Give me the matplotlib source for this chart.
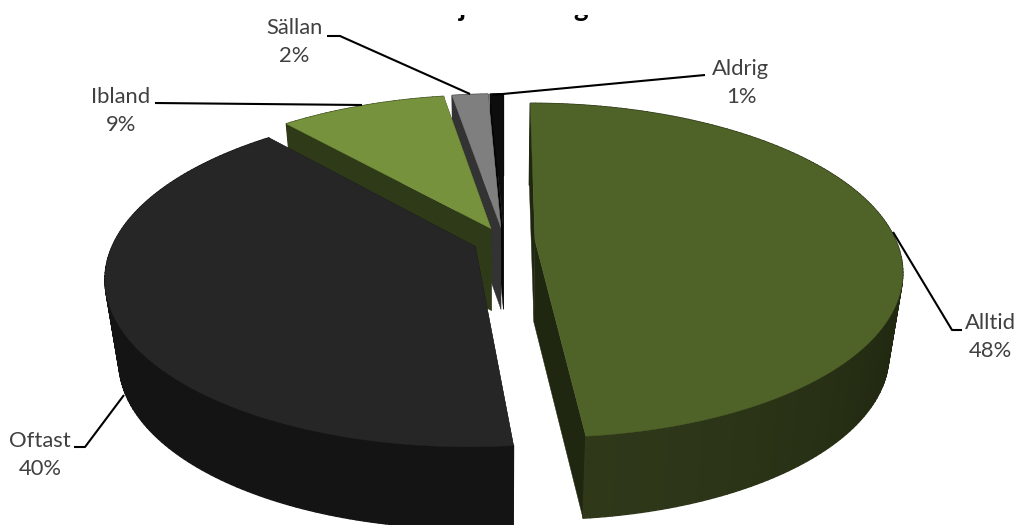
import numpy as np
import matplotlib
matplotlib.use("Agg")
import matplotlib.pyplot as plt
from matplotlib.patches import Rectangle

# ===================================================== Variables ==================================================== #

categories = ['Alltid', 'Oftast', 'Ibland', 'Sällan', 'Aldrig']
percent = [48.4, 40.2, 8.8, 1.9, 0.7]
percent_labels = ['48%', '40%', '9%', '2%', '1%']

top_colors = ['#4F6228', '#262626', '#76923C', '#7F7F7F', '#0D0D0D']
wall_colors = ['#1F2710', '#141414', '#2F3A18', '#333333', '#050505']
side_front = ['#2F3819', '#141414', '#3A4A1C', '#333333', '#050505']

CX, CY = 504, 241      # pie centre, pixels
RADIUS = 361
SQUASH = 0.4485
PERSP = 0.18
EXPLODE = 0.086
DEPTH = 82
BOTTOM_SCALE = 0.965

label_pos = [(990, 323), (40, 441), (121, 97), (294, 28), (741, 69)]
leaders = [
    [(893, 232), (952, 330), (962, 330)],
    [(124, 395), (85, 447), (74, 447)],
    [(155, 103), (362, 105)],
    [(327, 36), (340, 36), (470, 94)],
    [(705, 75), (492, 95)],
]


# ===================================================== Functions ==================================================== #


def project(u, v):
    w = 1 / (1 - PERSP * v)
    return CX + RADIUS * u * w, CY + SQUASH * RADIUS * v * w


def drop(x, y):
    return CX + (x - CX) * BOTTOM_SCALE, y + DEPTH


def mix(c1, c2, t):
    a = np.array(matplotlib.colors.to_rgb(c1))
    b = np.array(matplotlib.colors.to_rgb(c2))
    return tuple(a + (b - a) * t)


def draw_slice(ax, start, stop, i, order):
    mid = np.radians((start + stop) / 2)
    ox, oy = EXPLODE * np.sin(mid), -EXPLODE * np.cos(mid)
    angles = np.radians(np.linspace(start, stop, max(int(stop - start), 4)))
    rim_x, rim_y = project(ox + np.sin(angles), oy - np.cos(angles))
    apex_x, apex_y = project(ox, oy)
    low_x, low_y = drop(rim_x, rim_y)
    apex_lx, apex_ly = drop(apex_x, apex_y)

    # cut walls under the two straight edges
    for k in (0, -1):
        ax.fill([apex_x, rim_x[k], low_x[k], apex_lx], [apex_y, rim_y[k], low_y[k], apex_ly],
                color=wall_colors[i], lw=0.3, zorder=order * 3 + 1)

    # outer wall, a bit lighter towards the viewer
    for k in range(len(angles) - 1):
        t = max(0.0, -np.cos(angles[k])) ** 2
        c = mix(wall_colors[i], side_front[i], t)
        ax.fill([rim_x[k], rim_x[k + 1], low_x[k + 1], low_x[k]],
                [rim_y[k], rim_y[k + 1], low_y[k + 1], low_y[k]],
                color=c, lw=1, zorder=order * 3 + 2)

    ax.fill(np.r_[apex_x, rim_x], np.r_[apex_y, rim_y], color=top_colors[i], lw=0.3, zorder=order * 3 + 3)


# ======================================================= Main ======================================================= #


def main():
    plt.rcParams['font.family'] = ['Lato', 'DejaVu Sans']
    fig = plt.figure(figsize=(10.17, 5.25), dpi=100)
    ax = fig.add_axes([0, 0, 1, 1])
    ax.set_xlim(0, 1017)
    ax.set_ylim(525, 0)
    ax.axis('off')

    edges = np.r_[0, np.cumsum(percent)] * 3.6
    # small back slices first, then Ibland, Oftast and Alltid on top
    for order, i in enumerate([4, 3, 2, 1, 0]):
        draw_slice(ax, edges[i], edges[i + 1], i, order)

    for line in leaders:
        xs, ys = zip(*line)
        ax.plot(xs, ys, color='black', lw=1.5, solid_capstyle='butt', zorder=40)

    for name, pct, (x, y) in zip(categories, percent_labels, label_pos):
        ax.text(x, y, name, fontsize=15.8, color='#404040', ha='center', va='center', zorder=50)
        ax.text(x, y + 28, pct, fontsize=15.8, color='#404040', ha='center', va='center', zorder=50)

    # the title is cut off in the source, only two descenders are left
    clip = Rectangle((0, 15), 1017, 20, transform=ax.transData)
    for ch, x in (('j', 463), ('g', 581)):
        t = ax.text(x, 8, ch, fontsize=20, fontweight='bold', color='black', ha='center', va='center', zorder=50,
                    clip_on=True)
        t.set_clip_path(clip)

    fig.savefig('out.png', dpi=100, facecolor='white')


if __name__ == '__main__':
    main()
